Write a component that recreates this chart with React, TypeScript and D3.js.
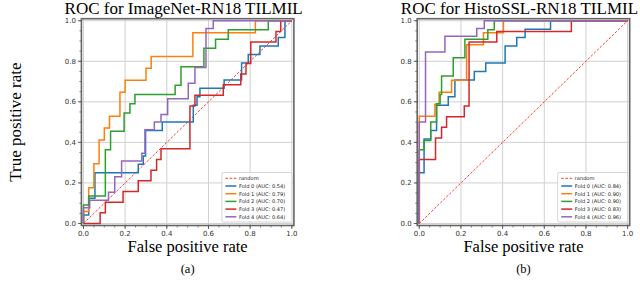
import * as d3 from 'd3';

// folds, colours and AUC values shown in the legends
const foldLabels = ['Fold 0', 'Fold 1', 'Fold 2', 'Fold 3', 'Fold 4'];
const foldColors = ['#1f77b4', '#ff7f0e', '#2ca02c', '#d62728', '#9467bd'];
const imagenetAuc = [0.54, 0.79, 0.7, 0.47, 0.64];
const histoAuc = [0.84, 0.9, 0.9, 0.83, 0.96];

// ROC points: fpr where the curve rises, tpr after the rise
const imagenetFpr = [
  [0, 0, 0.025, 0.055, 0.263, 0.287, 0.298, 0.378, 0.527, 0.545, 0.559, 0.675, 0.759, 0.791, 0.847, 0.935, 0.967, 1],
  [0, 0, 0.025, 0.05, 0.075, 0.1, 0.125, 0.175, 0.2, 0.3, 0.325, 0.525, 0.825, 1],
  [0, 0, 0.025, 0.105, 0.13, 0.195, 0.223, 0.247, 0.44, 0.468, 0.578, 0.634, 0.695, 0.887, 1],
  [0, 0.08, 0.105, 0.19, 0.263, 0.324, 0.351, 0.372, 0.511, 0.535, 0.671, 0.755, 0.78, 0.803, 0.924, 0.947, 1],
  [0, 0, 0.03, 0.12, 0.15, 0.183, 0.28, 0.295, 0.34, 0.372, 0.404, 0.503, 0.535, 0.588, 0.623, 1],
];
const imagenetTpr = [
  [0, 0.042, 0.125, 0.25, 0.292, 0.333, 0.458, 0.5, 0.583, 0.625, 0.667, 0.708, 0.792, 0.833, 0.875, 0.917, 1, 1],
  [0, 0.059, 0.176, 0.294, 0.412, 0.471, 0.529, 0.647, 0.706, 0.765, 0.824, 0.941, 1, 1],
  [0, 0.091, 0.136, 0.364, 0.455, 0.545, 0.591, 0.636, 0.682, 0.773, 0.864, 0.909, 0.955, 1, 1],
  [0, 0.053, 0.105, 0.158, 0.211, 0.263, 0.316, 0.368, 0.579, 0.632, 0.684, 0.737, 0.789, 0.895, 0.947, 1, 1],
  [0, 0.077, 0.115, 0.154, 0.231, 0.308, 0.346, 0.462, 0.5, 0.538, 0.615, 0.692, 0.769, 0.962, 1, 1],
];
const histoFpr = [
  [0, 0, 0.023, 0.055, 0.083, 0.139, 0.171, 0.264, 0.319, 0.412, 0.468, 0.508, 0.63, 1],
  [0, 0, 0.075, 0.095, 0.155, 0.227, 0.308, 0.404, 1],
  [0, 0, 0.023, 0.055, 0.083, 0.1, 0.107, 0.163, 0.219, 0.329, 0.36, 1],
  [0, 0, 0.078, 0.107, 0.131, 0.216, 0.239, 0.372, 0.73, 1],
  [0, 0, 0.03, 0.123, 0.276, 0.312, 1],
];
const histoTpr = [
  [0, 0.25, 0.417, 0.458, 0.583, 0.625, 0.708, 0.75, 0.792, 0.875, 0.917, 0.958, 1, 1],
  [0, 0.529, 0.588, 0.647, 0.706, 0.882, 0.941, 1, 1],
  [0, 0.364, 0.409, 0.5, 0.591, 0.636, 0.727, 0.818, 0.909, 0.955, 1, 1],
  [0, 0.316, 0.421, 0.474, 0.526, 0.579, 0.895, 0.947, 1, 1],
  [0, 0.5, 0.846, 0.923, 0.962, 1, 1],
];

const majorTicks = [0, 0.2, 0.4, 0.6, 0.8, 1];
const minorTicks = d3.range(0, 21).map((i) => i / 20);

const serif = '"Liberation Serif", "DejaVu Serif", serif';
const sans = '"DejaVu Sans", sans-serif';

type PanelProps = {
  left: number;
  title: string;
  sub: string;
  fpr: number[][];
  tpr: number[][];
  auc: number[];
  yLabel?: string;
};

function Panel({ left, title, sub, fpr, tpr, auc, yLabel }: PanelProps) {
  const x = d3.scaleLinear().domain([-0.01, 1.01]).range([left, left + 212.5]);
  const y = d3.scaleLinear().domain([-0.01, 1.01]).range([225.5, 18.7]);
  const line = d3
    .line<[number, number]>()
    .x((d) => x(d[0]))
    .y((d) => y(d[1]))
    .curve(d3.curveStepAfter);
  const fmt = d3.format('.1f');
  const [x0, x1] = x.range();
  const [y0, y1] = y.range();
  const cx = (x0 + x1) / 2;

  // legend in the lower right corner
  const legW = 70;
  const legH = 49.5;
  const legX = x1 - 2 - legW;
  const legY = y0 - 3.5 - legH;
  const rowH = 7.7;
  const legendRows = [{ label: 'random', color: '#ff3b3b', dash: true }].concat(
    foldLabels.map((f, i) => ({ label: `${f} (AUC: ${auc[i].toFixed(2)})`, color: foldColors[i], dash: false }))
  );

  return (
    <g>
      <text x={cx - 4} y={13.5} textAnchor="middle" fontFamily={serif} fontSize={17}>
        {title}
      </text>
      {/* grid */}
      {majorTicks.map((t) => (
        <g key={'g' + t}>
          <line x1={x(t)} x2={x(t)} y1={y1} y2={y0} stroke="#d0d0d0" strokeWidth={1} />
          <line x1={x0} x2={x1} y1={y(t)} y2={y(t)} stroke="#d0d0d0" strokeWidth={1} />
        </g>
      ))}
      {/* random */}
      <line
        x1={x(0)}
        y1={y(0)}
        x2={x(1)}
        y2={y(1)}
        stroke="#ff3b3b"
        strokeWidth={1}
        strokeDasharray="2.6,1.6"
      />
      {fpr.map((fs, i) => (
        <path
          key={i}
          d={line(fs.map((f, j) => [f, tpr[i][j]] as [number, number])) || ''}
          fill="none"
          stroke={foldColors[i]}
          strokeWidth={1.5}
        />
      ))}
      {/* frame */}
      <rect x={x0} y={y1} width={x1 - x0} height={y0 - y1} fill="none" stroke="#666" strokeWidth={1.6} />
      {/* ticks */}
      {minorTicks.map((t) => (
        <g key={'m' + t}>
          <line x1={x(t)} x2={x(t)} y1={y0} y2={y0 + 2} stroke="#555" strokeWidth={0.7} />
          <line x1={x0} x2={x0 - 2} y1={y(t)} y2={y(t)} stroke="#555" strokeWidth={0.7} />
        </g>
      ))}
      {majorTicks.map((t) => (
        <g key={'t' + t}>
          <line x1={x(t)} x2={x(t)} y1={y0} y2={y0 + 3.5} stroke="#555" strokeWidth={0.9} />
          <line x1={x0} x2={x0 - 3.5} y1={y(t)} y2={y(t)} stroke="#555" strokeWidth={0.9} />
          <text x={x(t)} y={235.5} textAnchor="middle" fontFamily={sans} fontSize={7} fill="#333">
            {fmt(t)}
          </text>
          <text x={x0 - 5.5} y={y(t) + 2.5} textAnchor="end" fontFamily={sans} fontSize={7} fill="#333">
            {fmt(t)}
          </text>
        </g>
      ))}
      <text x={cx} y={252} textAnchor="middle" fontFamily={serif} fontSize={16.5}>
        False positive rate
      </text>
      <text x={cx} y={273} textAnchor="middle" fontFamily={serif} fontSize={12.5}>
        {sub}
      </text>
      {yLabel && (
        <text
          transform={`translate(20.5,${(y0 + y1) / 2}) rotate(-90)`}
          textAnchor="middle"
          fontFamily={serif}
          fontSize={17}
        >
          {yLabel}
        </text>
      )}
      {/* legend */}
      <rect x={legX} y={legY} width={legW} height={legH} rx={1.5} fill="#fff" fillOpacity={0.85} stroke="#ccc" strokeWidth={0.8} />
      {legendRows.map((r, i) => {
        const ry = legY + 5.8 + i * rowH;
        return (
          <g key={'l' + i}>
            <line
              x1={legX + 3.5}
              x2={legX + 14.5}
              y1={ry}
              y2={ry}
              stroke={r.color}
              strokeWidth={r.dash ? 1 : 1.5}
              strokeDasharray={r.dash ? '2.6,1.6' : undefined}
            />
            <text x={legX + 17} y={ry + 1.8} fontFamily={sans} fontSize={5.1} fill="#222">
              {r.label}
            </text>
          </g>
        );
      })}
    </g>
  );
}

export default function App() {
  return (
    <div style={{ position: 'absolute', left: 0, top: 0 }}>
      <svg width={640} height={282} style={{ display: 'block', background: '#fff' }}>
        <Panel
          left={81.4}
          title="ROC for ImageNet-RN18 TILMIL"
          sub="(a)"
          fpr={imagenetFpr}
          tpr={imagenetTpr}
          auc={imagenetAuc}
          yLabel="True positive rate"
        />
        <Panel
          left={417.2}
          title="ROC for HistoSSL-RN18 TILMIL"
          sub="(b)"
          fpr={histoFpr}
          tpr={histoTpr}
          auc={histoAuc}
        />
      </svg>
    </div>
  );
}
